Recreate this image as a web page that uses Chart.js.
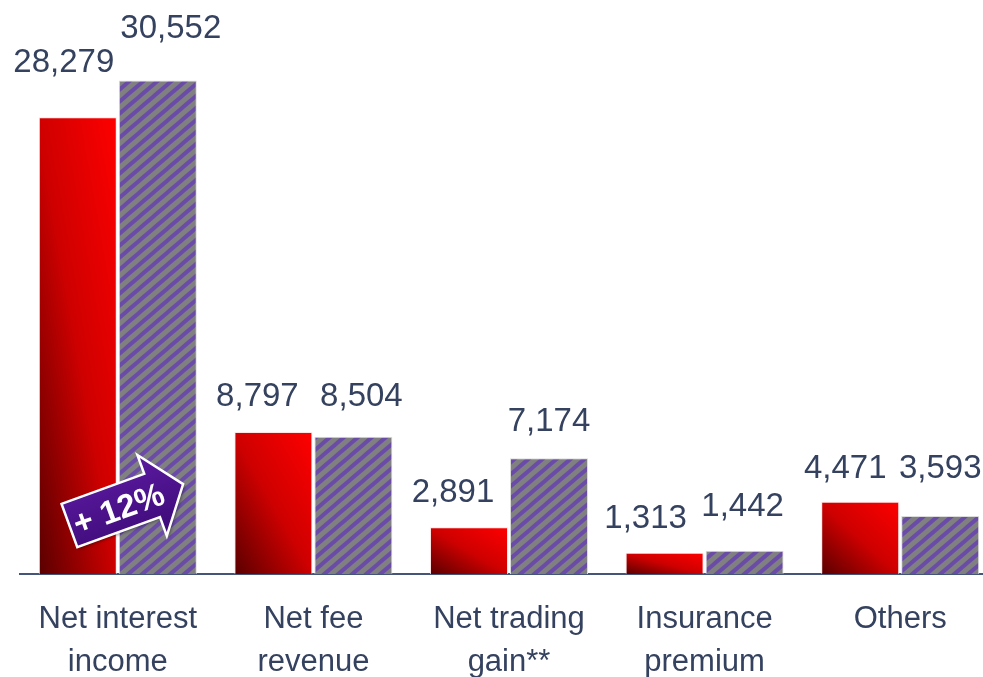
<!DOCTYPE html>
<html>
<head>
<meta charset="utf-8">
<script src="https://cdn.jsdelivr.net/npm/chart.js@4.4.1/dist/chart.umd.min.js"></script>
<style>
  html, body { margin: 0; padding: 0; background: #fff; overflow: hidden; }
  #wrap { width: 1000px; height: 677px; }
</style>
</head>
<body>
<div id="wrap"><canvas id="revenueChart" width="1000" height="677"></canvas></div>
<script>
// Chart data
const categories = [['Net interest', 'income'], ['Net fee', 'revenue'], ['Net trading', 'gain**'], ['Insurance', 'premium'], ['Others']];
const previousYear = [28279, 8797, 2891, 1313, 4471];
const currentYear = [30552, 8504, 7174, 1442, 3593];
const growthLabel = '+ 12%';

// Hand placed value labels: [dx from bar centre, gap above bar top]
const prevLabelNudge = [[-14, 45], [-16, 26], [-16, 25], [-19, 25], [-15, 24]];
const currLabelNudge = [[13, 43], [8, 31], [0, 27], [-2, 35], [0, 38]];

const FONT = "'Liberation Sans', Arial, sans-serif";
const TEXT = '#35425f';

// Purple on grey upward diagonal hatch
function makeHatch() {
    const w = 14, h = 12;
    const c = document.createElement('canvas');
    c.width = w;
    c.height = h;
    const g = c.getContext('2d');
    g.fillStyle = '#808080';
    g.fillRect(0, 0, w, h);
    g.strokeStyle = '#6a4ca8';
    g.lineWidth = 4;
    [-w, 0, w].forEach(o => {
        g.beginPath();
        g.moveTo(o - w / 4, h + h / 4);
        g.lineTo(o + w + w / 4, -h / 4);
        g.stroke();
    });
    return g.createPattern(c, 'repeat');
}

const ctx = document.getElementById('revenueChart').getContext('2d');
const hatch = makeHatch();

const CAT_PCT = 0.818;
const BAR_PCT = 0.975;

// Red bars: diagonal gradient scaled to each bar (dark bottom-left, bright top-right)
function redGradient(context) {
    const chart = context.chart;
    const xs = chart.scales.x, ys = chart.scales.y;
    if (!xs || !ys || context.raw == null) return '#d00000';
    const slot = xs.width / categories.length * CAT_PCT / 2;
    const cx = xs.getPixelForValue(context.dataIndex);
    const x0 = cx - slot, x1 = cx;
    const base = ys.getPixelForValue(0);
    const top = ys.getPixelForValue(context.raw);
    const w = x1 - x0, h = base - top;
    if (!(w > 0) || !(h > 0)) return '#d00000';
    const k = 2 * w * h / (w * w + h * h);
    const grad = chart.ctx.createLinearGradient(x0, base, x0 + h * k, base - w * k);
    grad.addColorStop(0, '#580000');
    grad.addColorStop(0.5, '#cf0000');
    grad.addColorStop(1, '#ff0000');
    return grad;
}

// Value labels above bars
const valueLabels = {
    id: 'valueLabels',
    afterDatasetsDraw(chart) {
        const c = chart.ctx;
        c.save();
        c.font = `33px ${FONT}`;
        c.fillStyle = TEXT;
        c.textAlign = 'center';
        c.textBaseline = 'alphabetic';
        const nudges = [prevLabelNudge, currLabelNudge];
        chart.data.datasets.forEach((ds, di) => {
            chart.getDatasetMeta(di).data.forEach((bar, i) => {
                const [dx, gap] = nudges[di][i];
                c.fillText(ds.data[i].toLocaleString('en-US'), bar.x + dx, bar.y - gap);
            });
        });
        c.restore();
    }
};

// Growth arrow over the first group
const growthArrow = {
    id: 'growthArrow',
    afterDatasetsDraw(chart) {
        const c = chart.ctx;
        const xs = chart.scales.x, ys = chart.scales.y;
        const cx = xs.getPixelForValue(0) + 8;
        const cy = ys.getPixelForValue(0) - 69;
        c.save();
        c.translate(cx, cy);
        c.rotate(-20 * Math.PI / 180);
        c.beginPath();
        c.moveTo(-60, -23);
        c.lineTo(28, -23);
        c.lineTo(28, -43);
        c.lineTo(61, 0);
        c.lineTo(28, 43);
        c.lineTo(28, 23);
        c.lineTo(-60, 23);
        c.closePath();
        const g = c.createLinearGradient(0, -43, 0, 43);
        g.addColorStop(0, '#5b1aa0');
        g.addColorStop(1, '#3c0a76');
        c.fillStyle = g;
        c.shadowColor = 'rgba(0,0,0,0.35)';
        c.shadowOffsetX = 2;
        c.shadowOffsetY = 2;
        c.shadowBlur = 3;
        c.fill();
        c.shadowColor = 'transparent';
        c.lineWidth = 2.5;
        c.strokeStyle = '#ffffff';
        c.lineJoin = 'miter';
        c.stroke();
        c.fillStyle = '#ffffff';
        c.font = `bold 33px ${FONT}`;
        c.textAlign = 'center';
        c.textBaseline = 'middle';
        c.fillText(growthLabel, -8, 3);
        c.restore();
    }
};

new Chart(ctx, {
    type: 'bar',
    data: {
        labels: categories,
        datasets: [{
            label: 'Previous year',
            data: previousYear,
            backgroundColor: redGradient,
            borderColor: 'rgba(255,220,220,0.8)',
            borderWidth: 1,
            categoryPercentage: CAT_PCT,
            barPercentage: BAR_PCT
        }, {
            label: 'Current year',
            data: currentYear,
            backgroundColor: hatch,
            borderColor: '#dcdcdc',
            borderWidth: 1,
            categoryPercentage: CAT_PCT,
            barPercentage: BAR_PCT
        }]
    },
    options: {
        responsive: false,
        animation: false,
        layout: { padding: { left: 20, right: 2, top: 0, bottom: 0 } },
        plugins: {
            legend: { display: false },
            tooltip: { enabled: false }
        },
        scales: {
            y: {
                display: false,
                min: 0,
                max: 35540
            },
            x: {
                grid: { display: false },
                border: { display: true, color: '#45557a', width: 2 },
                ticks: {
                    color: TEXT,
                    padding: 16,
                    font: { family: FONT, size: 31, lineHeight: 1.38 },
                    maxRotation: 0,
                    autoSkip: false
                },
                afterFit(scale) { scale.height = 103; }
            }
        }
    },
    plugins: [valueLabels, growthArrow]
});
</script>
</body>
</html>
